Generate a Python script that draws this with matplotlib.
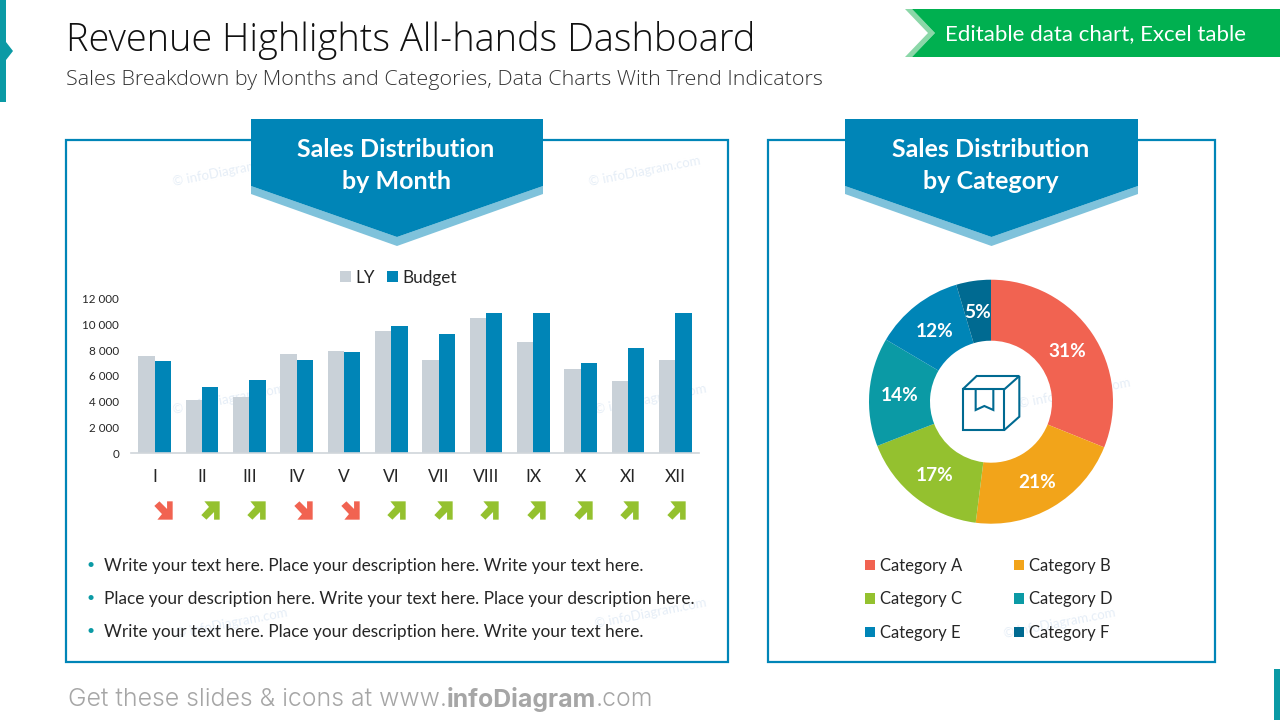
import matplotlib
matplotlib.use("Agg")
import matplotlib.pyplot as plt
from matplotlib.path import Path
from matplotlib.patches import Polygon, Rectangle

W, H = 1280, 720
months = ["I","II","III","IV","V","VI","VII","VIII","IX","X","XI","XII"]
ly = [7550,4140,4370,7710,7950,9500,7250,10500,8640,6550,5620,7250]
budget = [7170,5150,5690,7250,7870,9890,9270,10890,10890,7010,8180,10890]
trend = [-1,1,1,-1,-1,1,1,1,1,1,1,1]
yticks = [0,2000,4000,6000,8000,10000,12000]
categories = ["Category A","Category B","Category C","Category D","Category E","Category F"]
shares = [31.1,20.9,17.1,14.4,11.9,4.6]
bullets = ["Write your text here. Place your description here. Write your text here.",
           "Place your description here. Write your text here. Place your description here.",
           "Write your text here. Place your description here. Write your text here."]

BLUE="#0085B7"; LIGHT="#7FC2DB"; GREY="#C9D1D8"; TEAL="#0B9AA5"; GREEN="#00B050"
CORAL="#F16351"; LEAF="#94C12F"; DARK="#006A91"; TXT="#262626"
pie_colors=[CORAL,"#F2A41A",LEAF,TEAL,BLUE,DARK]
FONT="Lato"

fig=plt.figure(figsize=(W/100,H/100),dpi=100,facecolor="white")
def axpx(x0,y0,x1,y1,**k):
    return fig.add_axes([x0/W,1-y1/H,(x1-x0)/W,(y1-y0)/H],**k)

bg=axpx(0,0,W,H); bg.set_xlim(0,W); bg.set_ylim(H,0); bg.axis("off")
def poly(pts,c,z=2): bg.add_patch(Polygon(pts,closed=True,fc=c,ec="none",zorder=z))

poly([(0,0),(6,0),(6,42),(13,51),(6,60),(6,102),(0,102)],TEAL)
poly([(1274,669),(1280,669),(1280,720),(1274,720)],TEAL)
bg.text(66,40,"Revenue Highlights All-hands Dashboard",fontsize=27.3,family="Open Sans",fontweight=300,color="#111111",va="center",ha="left")
bg.text(66,80,"Sales Breakdown by Months and Categories, Data Charts With Trend Indicators",fontsize=15.46,family="Open Sans",fontweight=300,color="#333333",va="center",ha="left")

poly([(905,9),(912,9),(935,33),(912,57),(905,57),(928,33)],"#8BD7A8")
poly([(912,9),(1280,9),(1280,57),(912,57),(935,33)],GREEN)
bg.text(1095.5,34,"Editable data chart, Excel table",fontsize=16.05,family=FONT,color="white",va="center",ha="center")

marks=[(174,186),(590,186),(174,414),(596,414),(1020,408),(596,628),(1005,638),(177,638)]
for x,y in marks:
    bg.text(x,y,"© infoDiagram.com",fontsize=9.5,family=FONT,color="#E6EEF7",rotation=11,rotation_mode="anchor",va="baseline",ha="left",zorder=1)

for x0,x1 in [(66,728),(768,1215)]:
    bg.add_patch(Rectangle((x0,140),x1-x0,522,fc="none",ec=BLUE,lw=1.6,zorder=2))
for x0,x1,t in [(251,543,"Sales Distribution\nby Month"),(845,1138,"Sales Distribution\nby Category")]:
    m=(x0+x1)/2
    poly([(x0,186),(m,237),(x1,186),(x1,194),(m,246),(x0,194)],LIGHT,3)
    poly([(x0,119),(x1,119),(x1,186),(m,237),(x0,186)],BLUE,3)
    bg.text(m-1,165.5,t,fontsize=18,family=FONT,fontweight="bold",color="white",ha="center",va="center",linespacing=1.47,zorder=4)

for y,t in zip([566,599,632],bullets):
    bg.text(86,y-1,"•",fontsize=10,family=FONT,color=TEAL,va="center",ha="left")
    bg.text(104,y,t,fontsize=12.38,family=FONT,color=TXT,va="center",ha="left")

FOOT="Inter"; FS=17.85
t1=bg.text(68,699.5,"Get these slides & icons at www.",fontsize=FS,family=FOOT,fontweight=300,color="#A6A6A6",va="center",ha="left")
fig.canvas.draw()
r=fig.canvas.get_renderer()
def after(t): return t.get_window_extent(r).x1
t2=bg.text(after(t1),699.5,"infoDiagram",fontsize=FS,family=FOOT,fontweight="bold",color="#A6A6A6",va="center",ha="left")
bg.text(after(t2),699.5,".com",fontsize=FS,family=FOOT,fontweight=300,color="#A6A6A6",va="center",ha="left")

# Icon
ic="#006A91"
def ip(p): return [(860+a/3,270+b/3) for a,b in p]
for seg,closed in [([(308,358),(433,358),(433,480),(308,480)],True),([(308,358),(350,318),(478,318),(433,358)],False),
                   ([(433,480),(478,440),(478,318)],False),([(347,358),(347,420),(373,408),(400,420),(400,358)],False)]:
    bg.add_patch(Polygon(ip(seg),closed=closed,fc="none",ec=ic,lw=1.5,zorder=3))

# Bars
ax=axpx(131,298.7,699,453.3); ax.patch.set_alpha(0)
pos=list(range(len(months))); bw=0.345
b1=ax.bar([p-bw/2 for p in pos],ly,bw,color=GREY,label="LY")
b2=ax.bar([p+bw/2 for p in pos],budget,bw,color=BLUE,label="Budget")
ax.set_xlim(-0.5,11.5); ax.set_ylim(0,12000)
ax.set_yticks(yticks,[f"{v:,}".replace(","," ") for v in yticks],fontsize=8.4,family=FONT,color=TXT)
ax.set_xticks(pos,months,fontsize=12.5,family=FONT,color=TXT)
ax.tick_params(length=0); ax.tick_params(axis="x",pad=11); ax.tick_params(axis="y",pad=8.6)
for s in ["top","left","right"]: ax.spines[s].set_visible(False)
ax.spines["bottom"].set_color("#D0D5DA"); ax.spines["bottom"].set_linewidth(1.2)
ax.legend(loc="center",bbox_to_anchor=(0.471,1.135),ncol=2,frameon=False,prop={"family":FONT,"size":12.3},labelcolor=TXT,
          handlelength=0.63,handleheight=0.63,handletextpad=0.25,columnspacing=0.75,borderpad=0)
up=[(-6,9),(9,9),(9,-9),(3.5,-9),(3.5,-1.5),(-4,-9),(-9,-4.5),(-1.5,3.5),(-6,3.5)]
UP=Path(up,closed=True)
DOWN=Path([(a,-b) for a,b in up],closed=True)
tr=ax.get_xaxis_transform()
for p,t in zip(pos,trend):
    ax.plot([p+0.18-0.0155*p],[-0.367],marker=UP if t>0 else DOWN,ms=13.2,mew=0,color=LEAF if t>0 else CORAL,transform=tr,clip_on=False,ls="none")

# Donut
dx=axpx(869,279.7,1113,523.7); dx.patch.set_alpha(0)
w,_,au=dx.pie(shares,colors=pie_colors,startangle=90,counterclock=False,radius=1,wedgeprops={"width":0.5,"lw":0},
       autopct="%.0f%%",pctdistance=0.75,textprops={"family":FONT,"fontweight":"bold","fontsize":13.7,"color":"white"})
for a in au:
    px,py=a.get_position(); a.set_position((px,py-0.012))
dx.set_xlim(-1,1); dx.set_ylim(-1,1)
order=[0,2,4,1,3,5]
dx.legend([w[i] for i in order],[categories[i] for i in order],ncol=2,frameon=False,loc="upper left",
          bbox_to_anchor=(-0.016,-0.14),prop={"family":FONT,"size":12.0},labelcolor=TXT,handlelength=0.6,handleheight=0.6,handletextpad=0.3,
          columnspacing=3.1,labelspacing=1.05,borderpad=0,borderaxespad=0)
fig.savefig("out.png",dpi=100)
